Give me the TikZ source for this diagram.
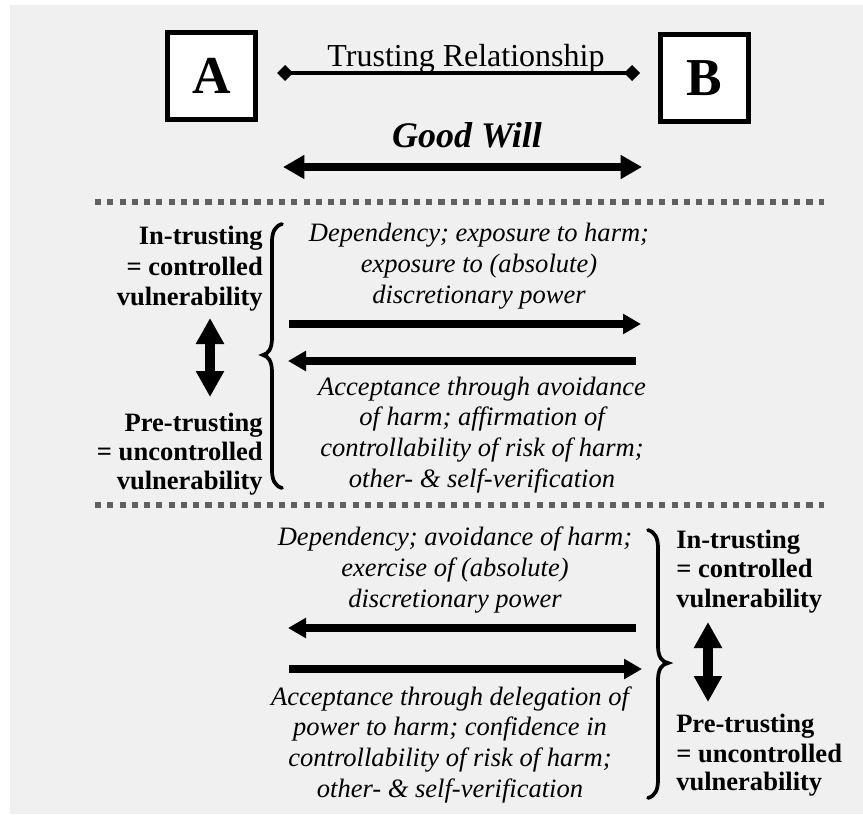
\documentclass[tikz,border=0pt]{standalone}
\usepackage{fontspec}
\setmainfont{Liberation Serif}
\usetikzlibrary{arrows.meta}
\definecolor{bgc}{HTML}{F0F0F0}
\definecolor{dotc}{HTML}{606060}
\begin{document}
\begin{tikzpicture}[x=0.75pt,y=-0.75pt,
  letterbox/.style={draw, line width=3.75pt, fill=white, minimum width=66pt, minimum height=65.25pt, inner sep=0pt, font=\fontsize{40}{40}\selectfont\bfseries},
  body/.style={font=\fontsize{19.9}{23}\selectfont\itshape, inner sep=0pt, align=center, anchor=base},
  lab/.style={font=\fontsize{19.9}{22.5}\selectfont\bfseries, inner sep=0pt, anchor=base},
  dotline/.style={dotc, line width=4.5pt, dash pattern=on 4.6pt off 4.6pt},
  bigarrow/.style={line width=6.5pt, {Triangle[length=16pt,width=17pt]}-{Triangle[length=16pt,width=17pt]}},
  midarrow/.style={line width=6pt, -{Triangle[length=13.5pt,width=14.5pt]}},
  vert/.style={line width=7.5pt, {Triangle[length=19.5pt,width=20pt]}-{Triangle[length=19.5pt,width=20pt]}},
  bracestyle/.style={line width=2.8pt, line cap=round},
  rel/.style={line width=3pt, {Diamond[length=12pt,width=12pt]}-{Diamond[length=12pt,width=12pt]}}
]
\useasboundingbox (0,0) rectangle (863,814);
\fill[bgc] (10,5) rectangle (863,814);

% Boxes
\node[letterbox] (A) at (211.5,76) {A};
\node[letterbox] (B) at (704.5,78) {B};

% Trusting relationship
\coordinate (r1) at (277,73);
\coordinate (r2) at (640,73);
\draw[rel] (r1) -- (r2);
\node[font=\fontsize{24}{24}\selectfont, inner sep=0pt, anchor=base] (trel) at (466,66) {Trusting Relationship};

% Good will
\node[font=\fontsize{27}{27}\selectfont\bfseries\itshape, inner sep=0pt, anchor=base] (gw) at (467,147) {Good Will};
\coordinate (g1) at (283,167);
\coordinate (g2) at (642,167);
\draw[bigarrow] (g1) -- (g2);

% dotted separators
\coordinate (d1a) at (95,202);
\coordinate (d1b) at (824,202);
\coordinate (d2a) at (95,505);
\coordinate (d2b) at (824,505);
\draw[dotline] (d1a) -- (d1b);
\draw[dotline] (d2a) -- (d2b);

% Section 1 left labels
\node[lab, anchor=base east] (l1) at (263,244) {In-trusting};
\node[lab, anchor=base east] (l2) at (263,275) {= controlled};
\node[lab, anchor=base east] (l3) at (263,305) {vulnerability};
\node[lab, anchor=base east] (l4) at (263,431) {Pre-trusting};
\node[lab, anchor=base east] (l5) at (263,460) {= uncontrolled};
\node[lab, anchor=base east] (l6) at (263,489) {vulnerability};
\coordinate (v1a) at (210,318);
\coordinate (v1b) at (210,397);
\draw[vert] (v1a) -- (v1b);

% left brace
\draw[bracestyle] (282,224) .. controls (275,226) and (272,232) .. (272,242) -- (272,338)
  .. controls (272,349) and (268,354) .. (263,355)
  .. controls (268,356) and (272,361) .. (272,372) -- (272,470)
  .. controls (272,480) and (275,486) .. (282,488);

% Section 1 texts and arrows (base anchor = last line baseline)
\node[body] (t1) at (479,303.3) {Dependency; exposure to harm;\\exposure to (absolute)\\discretionary power};
\coordinate (a1a) at (289,324);
\coordinate (a1b) at (641,324);
\draw[midarrow] (a1a) -- (a1b);
\coordinate (a2a) at (636,361);
\coordinate (a2b) at (288,361);
\draw[midarrow] (a2a) -- (a2b);
\node[body] (t2) at (482,487) {Acceptance through avoidance\\of harm; affirmation of\\controllability of risk of harm;\\other- \& self-verification};

% Section 2
\node[body] (t3) at (455,607) {Dependency; avoidance of harm;\\exercise of (absolute)\\discretionary power};
\coordinate (a3a) at (636,628);
\coordinate (a3b) at (288,628);
\draw[midarrow] (a3a) -- (a3b);
\coordinate (a4a) at (289,669);
\coordinate (a4b) at (642,669);
\draw[midarrow] (a4a) -- (a4b);
\node[body] (t4) at (450,797) {Acceptance through delegation of\\power to harm; confidence in\\controllability of risk of harm;\\other- \& self-verification};

% right brace
\draw[bracestyle] (648,530) .. controls (655,532) and (658,538) .. (658,548) -- (658,646)
  .. controls (658,657) and (662,662) .. (668,663)
  .. controls (662,664) and (658,669) .. (658,680) -- (658,780)
  .. controls (658,790) and (655,796) .. (648,798);

% right labels
\node[lab, anchor=base west] (r1l) at (676,548) {In-trusting};
\node[lab, anchor=base west] (r2l) at (676,577) {= controlled};
\node[lab, anchor=base west] (r3l) at (676,607) {vulnerability};
\node[lab, anchor=base west] (r4l) at (676,732) {Pre-trusting};
\node[lab, anchor=base west] (r5l) at (676,762) {= uncontrolled};
\node[lab, anchor=base west] (r6l) at (676,790) {vulnerability};
\coordinate (v2a) at (708,622);
\coordinate (v2b) at (708,702);
\draw[vert] (v2a) -- (v2b);
\end{tikzpicture}
\end{document}
